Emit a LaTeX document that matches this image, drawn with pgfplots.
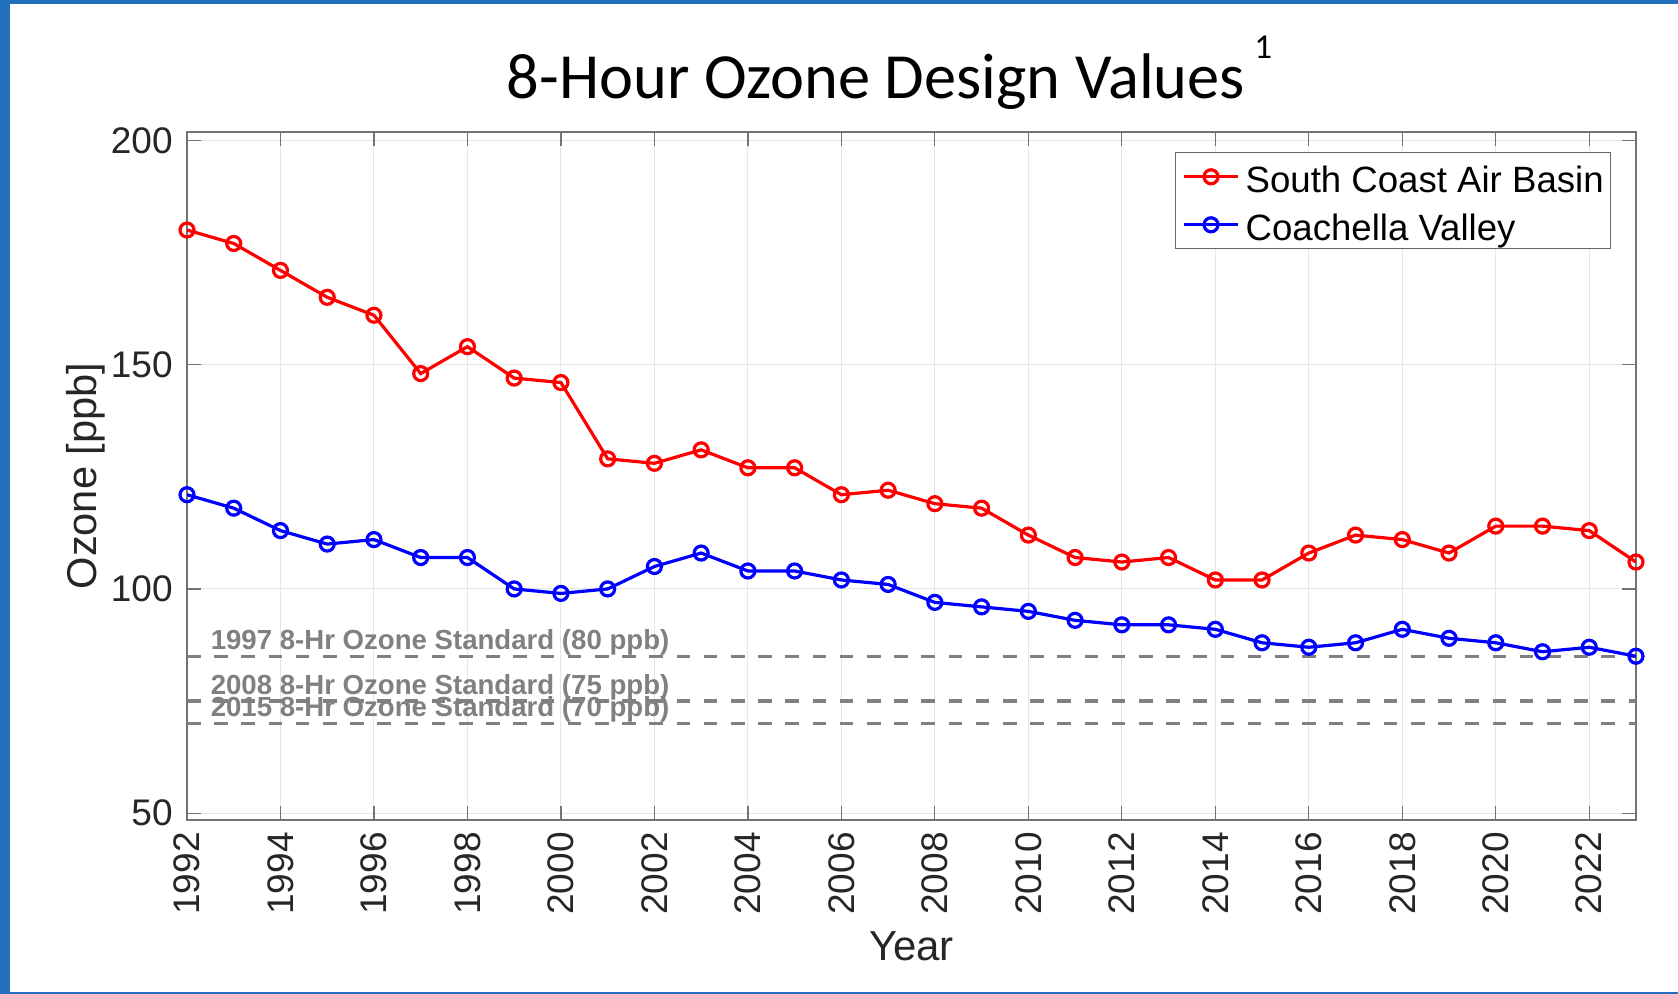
\documentclass[border=0pt]{standalone}
\usepackage{fontspec}
\setmainfont{Liberation Sans}
\newfontfamily\calibri{Carlito}
\usepackage{pgfplots}
\pgfplotsset{compat=1.18}
\definecolor{frameblue}{RGB}{35,112,190}
\begin{document}
\begin{tikzpicture}
\useasboundingbox (0pt,0pt) rectangle (839pt,497pt);
\fill[frameblue] (0pt,0pt) rectangle (839pt,497pt);
\fill[white] (4.8pt,0.9pt) rectangle (839pt,495.2pt);
\begin{axis}[
  at={(93.5pt,87pt)}, anchor=south west,
  scale only axis, width=724.5pt, height=344pt,
  xmin=1992, xmax=2023, ymin=48.5, ymax=201.85,
  xtick={1992,1994,...,2022}, ytick={50,100,150,200},
  xticklabel style={rotate=90, anchor=east, inner sep=0pt},
  xticklabel shift={6pt},
  yticklabel style={anchor=east, inner sep=0pt},
  yticklabel shift={7pt},
  tick label style={font=\fontsize{18.5}{20}\selectfont, text=black!85},
  /pgf/number format/assume math mode=true,
  /pgf/number format/1000 sep={},
  tick pos=both, tick align=inside, major tick length=7pt,
  axis line style={draw=black!55, line width=0.75pt},
  every tick/.style={draw=black!55, line width=0.6pt},
  grid=major, major grid style={draw=black!10, line width=0.5pt},
  xlabel={Year}, ylabel={Ozone [ppb]},
  xlabel style={at={(axis description cs:0.5,-0.2049)}, anchor=base, font=\fontsize{21}{24}\selectfont, text=black!85, inner sep=0pt},
  ylabel style={at={(axis description cs:-0.0625,0.5)}, anchor=base, rotate=0, font=\fontsize{20.8}{24}\selectfont, text=black!85, inner sep=0pt},
  legend style={at={(1,1)}, anchor=north east, xshift=-12.5pt, yshift=-10.15pt,
    draw=black!60, line width=0.5pt, fill=white, inner xsep=3.4pt, inner ysep=3.8pt,
    font=\fontsize{18.3}{20}\selectfont, row sep=7.6pt, column sep=3pt,
    nodes={inner sep=0pt, text height=16pt, text depth=0.4pt}},
  legend cell align=left,
  legend image code/.code={\draw[mark repeat=2,mark phase=2,#1] plot coordinates {(0pt,0pt) (13.5pt,0pt) (27pt,0pt)};},
]
\addplot[forget plot, draw=black!50, line width=1.6pt, dash pattern=on 6.8pt off 6.8pt] coordinates {(1992,85) (2023,85)};
\addplot[forget plot, draw=black!50, line width=1.6pt, dash pattern=on 6.8pt off 6.8pt] coordinates {(1992,75) (2023,75)};
\addplot[forget plot, draw=black!50, line width=1.6pt, dash pattern=on 6.8pt off 6.8pt] coordinates {(1992,70) (2023,70)};
\addplot[color=red, line width=1.6pt, mark=o, mark size=3.5pt, mark options={solid}] coordinates {
(1992,180) (1993,177) (1994,171) (1995,165) (1996,161) (1997,148) (1998,154) (1999,147)
(2000,146) (2001,129) (2002,128) (2003,131) (2004,127) (2005,127) (2006,121) (2007,122)
(2008,119) (2009,118) (2010,112) (2011,107) (2012,106) (2013,107) (2014,102) (2015,102)
(2016,108) (2017,112) (2018,111) (2019,108) (2020,114) (2021,114) (2022,113) (2023,106)};
\addlegendentry{South Coast Air Basin}
\addplot[color=blue, line width=1.6pt, mark=o, mark size=3.5pt, mark options={solid}] coordinates {
(1992,121) (1993,118) (1994,113) (1995,110) (1996,111) (1997,107) (1998,107) (1999,100)
(2000,99) (2001,100) (2002,105) (2003,108) (2004,104) (2005,104) (2006,102) (2007,101)
(2008,97) (2009,96) (2010,95) (2011,93) (2012,92) (2013,92) (2014,91) (2015,88)
(2016,87) (2017,88) (2018,91) (2019,89) (2020,88) (2021,86) (2022,87) (2023,85)};
\addlegendentry{Coachella Valley}
\node[anchor=base west, inner sep=0pt, text=black!50, font=\bfseries\fontsize{13.8}{15}\selectfont, yshift=3.5pt] at (axis cs:1992.5,85) {1997 8-Hr Ozone Standard (80 ppb)};
\node[anchor=base west, inner sep=0pt, text=black!50, font=\bfseries\fontsize{13.8}{15}\selectfont, yshift=3.5pt] at (axis cs:1992.5,75) {2008 8-Hr Ozone Standard (75 ppb)};
\node[anchor=base west, inner sep=0pt, text=black!50, font=\bfseries\fontsize{13.8}{15}\selectfont, yshift=3.5pt] at (axis cs:1992.5,70) {2015 8-Hr Ozone Standard (70 ppb)};
\end{axis}
\node[anchor=base, inner sep=0pt, font=\calibri\fontsize{32.2}{36}\selectfont] at (438pt,447.5pt) {8-Hour Ozone Design Values};
\node[anchor=base west, inner sep=0pt, font=\calibri\fontsize{17.5}{20}\selectfont] at (627pt,467.5pt) {1};
\end{tikzpicture}
\end{document}
